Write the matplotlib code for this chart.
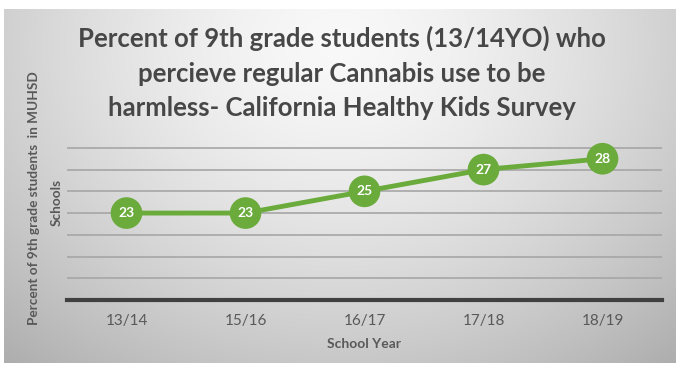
import numpy as np
import matplotlib
matplotlib.use("Agg")
import matplotlib.pyplot as plt

years = ["13/14", "15/16", "16/17", "17/18", "18/19"]
values = [23, 23, 25, 27, 28]

title = "Percent of 9th grade students (13/14YO) who\npercieve regular Cannabis use to be\nharmless- California Healthy Kids Survey"
ylabel1 = "Percent of 9th grade students  in MUHSD"
ylabel2 = "Schools"
xlabel = "School Year"

W, H = 676, 373
fig = plt.figure(figsize=(W / 100, H / 100), dpi=100)
fig.patch.set_facecolor("white")

# background gradient panel
bg = fig.add_axes([4 / W, 1 - 363 / H, 1 - 4 / W, (363 - 9) / H])
bg.set_axis_off()
yy, xx = np.mgrid[0:1:200j, 0:1:300j]
d = np.sqrt(((xx - 0.5) / 0.7) ** 2 + ((yy - 0.1) / 1.1) ** 2)
img = 0.975 - 0.26 * d ** 1.5
img = np.clip(img, 0, 1)
bg.imshow(np.dstack([img, img, img]), aspect="auto", extent=[0, 1, 1, 0], interpolation="bilinear")
bg.set_xlim(0, 1)
bg.set_ylim(1, 0)

ax = fig.add_axes([67 / W, 1 - 300 / H, (662 - 67) / W, (300 - 137) / H])
ax.patch.set_alpha(0)
x = np.arange(len(years))
ax.set_xlim(-0.5, len(years) - 0.5)
ax.set_ylim(15, 30)
for g in range(17, 30, 2):
    ax.axhline(g, color="#a6a6a6", lw=1.2, zorder=1)
for s in ["top", "right", "left"]:
    ax.spines[s].set_visible(False)
ax.spines["bottom"].set_color("#404040")
ax.spines["bottom"].set_linewidth(3)
ax.set_yticks([])
ax.set_xticks(x)
ax.set_xticklabels(years, fontfamily="Lato", fontsize=11, color="#595959")
ax.tick_params(axis="x", length=0, pad=10)

green = "#6aab3c"
ax.plot(x, values, color=green, lw=3.5, zorder=3, solid_capstyle="round")
ax.scatter(x, values, s=520, color=green, zorder=4, edgecolors="none")
for xi, v in zip(x, values):
    ax.text(xi, v, str(v), ha="center", va="center", color="white",
            fontfamily="Lato", fontweight="bold", fontsize=10, zorder=5)

fig.text(342 / W, 1 - 73 / H, title, ha="center", va="center", fontfamily="Lato",
         fontweight="bold", fontsize=18.5, color="#474747", linespacing=1.52)
fig.text(34 / W, 1 - 198 / H, ylabel1, ha="center", va="center", rotation=90,
         fontfamily="Lato", fontweight="bold", fontsize=9.8, color="#595959")
fig.text(57 / W, 1 - 203 / H, ylabel2, ha="center", va="center", rotation=90,
         fontfamily="Lato", fontweight="bold", fontsize=9.8, color="#595959")
fig.text(364 / W, 1 - 344 / H, xlabel, ha="center", va="center", fontfamily="Lato",
         fontweight="bold", fontsize=10, color="#595959")

fig.savefig("out.png", dpi=100)
